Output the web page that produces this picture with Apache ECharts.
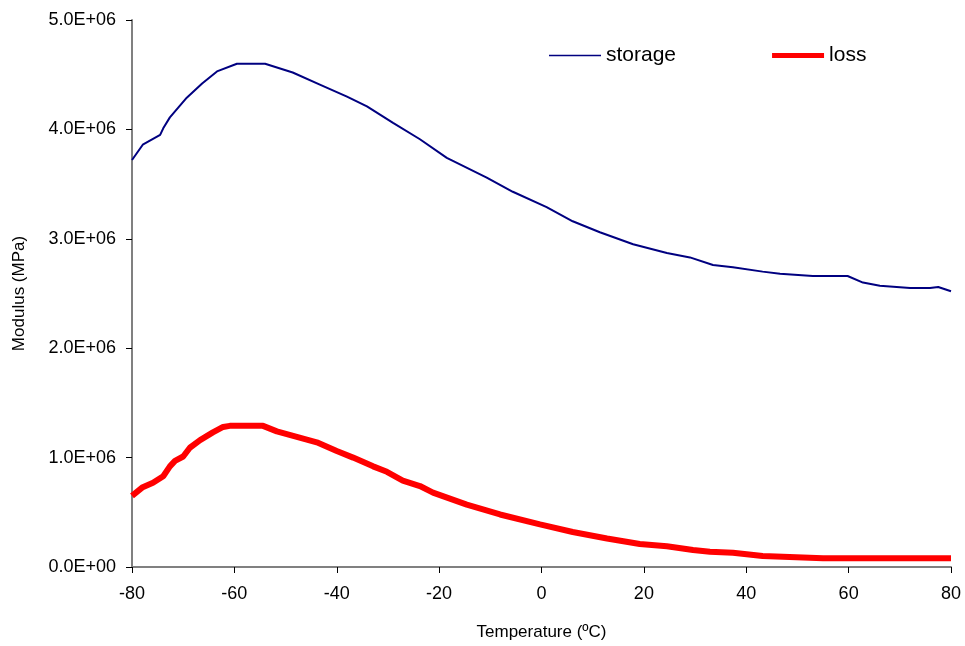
<!DOCTYPE html>
<html>
<head>
<meta charset="utf-8">
<script src="https://cdn.jsdelivr.net/npm/echarts@6/dist/echarts.min.js"></script>
<style>html,body{margin:0;padding:0;background:#fff}#c{width:965px;height:646px}</style>
</head>
<body>
<div id="c"></div>
<script>
const storageT = [-80,-77.9,-74.5,-73.9,-72.6,-69.3,-66.3,-63.4,-59.5,-54,-48.6,-43.3,-38,-34.1,-29,-23.75,-18.5,-10.7,-5.6,1.0,6.1,11.4,17.9,24.5,29,33.5,37.4,43.2,46.6,53,59.8,62.8,66.1,72,75.9,77.5,80];
const storageV = [3.72,3.86,3.95,4.01,4.11,4.29,4.42,4.53,4.60,4.60,4.52,4.41,4.30,4.21,4.06,3.91,3.74,3.56,3.43,3.29,3.16,3.06,2.95,2.87,2.83,2.76,2.74,2.70,2.68,2.66,2.66,2.60,2.57,2.55,2.55,2.56,2.52];
const lossT = [-80,-77.9,-75.9,-73.9,-72.6,-71.6,-70,-68.7,-66.7,-64.2,-62.2,-60.9,-54.4,-51.7,-47.8,-43.9,-40,-36.8,-32.9,-30.2,-27.1,-23.75,-21.2,-14.6,-8.1,-0.3,6.1,12.8,19.2,24.5,29.6,32.9,37.4,43.2,55,80];
const lossV = [0.65,0.73,0.77,0.83,0.92,0.97,1.01,1.09,1.16,1.23,1.28,1.29,1.29,1.24,1.19,1.14,1.06,1.00,0.92,0.87,0.79,0.74,0.68,0.57,0.48,0.39,0.32,0.26,0.21,0.19,0.155,0.14,0.13,0.10,0.08,0.08];
const seriesNames = ['storage','loss'];
const xTicks = [-80,-60,-40,-20,0,20,40,60,80];
const yScale = 1e6;

function sci(v){
  if (v === 0) return '0.0E+00';
  const e = Math.floor(Math.log10(Math.abs(v)) + 1e-9);
  const m = v / Math.pow(10, e);
  return m.toFixed(1) + 'E' + (e >= 0 ? '+' : '-') + String(Math.abs(e)).padStart(2, '0');
}

const chart = echarts.init(document.getElementById('c'), null, {renderer:'canvas'});
const font = 'Liberation Sans, Arial, sans-serif';
chart.setOption({
  animation:false,
  backgroundColor:'#fff',
  grid:{left:132,right:14,top:20,bottom:78,containLabel:false},
  legend:{
    top:40,left:544,itemWidth:52,itemHeight:14,itemGap:96,
    textStyle:{fontFamily:font,fontSize:21,color:'#000'},
    data:[
      {name:seriesNames[0],icon:'path://M0,6.3L52,6.3L52,7.7L0,7.7Z',itemStyle:{color:'#000080'}},
      {name:seriesNames[1],icon:'path://M0,4.5L52,4.5L52,9.5L0,9.5Z',itemStyle:{color:'#ff0000'}}
    ]
  },
  xAxis:{
    type:'value',min:-80,max:80,interval:20,
    name:'Temperature (ºC)',nameLocation:'middle',nameGap:57,
    nameTextStyle:{fontFamily:font,fontSize:17,color:'#000'},
    axisLine:{show:true,onZero:false,lineStyle:{color:'#808080',width:2}},
    axisTick:{show:true,length:6,lineStyle:{color:'#000',width:1}},
    axisLabel:{fontFamily:font,fontSize:18,color:'#000',margin:18},
    splitLine:{show:false}
  },
  yAxis:{
    type:'value',min:0,max:5e6,interval:1e6,
    name:'Modulus (MPa)',nameLocation:'middle',nameGap:104,
    nameTextStyle:{fontFamily:font,fontSize:17,color:'#000'},
    axisLine:{show:true,onZero:false,lineStyle:{color:'#808080',width:2}},
    axisTick:{show:true,length:6,lineStyle:{color:'#000',width:1}},
    axisLabel:{fontFamily:font,fontSize:18,color:'#000',margin:16,formatter:sci},
    splitLine:{show:false}
  },
  series:[
    {name:seriesNames[0],type:'line',symbol:'none',smooth:false,
     lineStyle:{color:'#000080',width:2},itemStyle:{color:'#000080'},
     data:storageT.map((t,i)=>[t,storageV[i]*yScale])},
    {name:seriesNames[1],type:'line',symbol:'none',smooth:false,
     lineStyle:{color:'#ff0000',width:6},itemStyle:{color:'#ff0000'},
     data:lossT.map((t,i)=>[t,lossV[i]*yScale])}
  ]
});
</script>
</body>
</html>
